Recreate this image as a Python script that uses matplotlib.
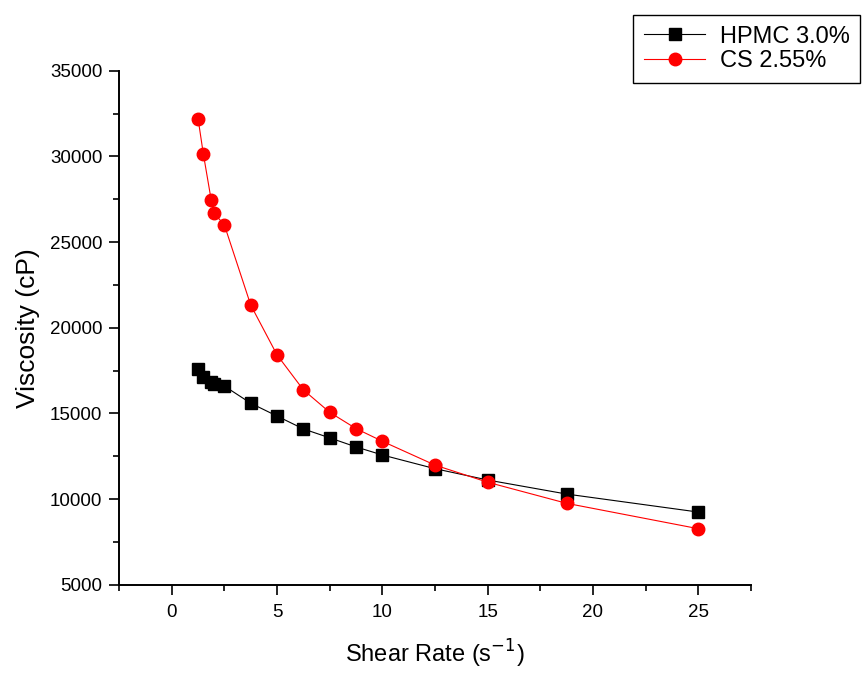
import matplotlib.pyplot as plt
from matplotlib.ticker import MultipleLocator

plt.rcParams['font.family'] = ['Liberation Sans', 'DejaVu Sans']

shear_rate = [1.25, 1.5, 1.875, 2, 2.5, 3.75, 5, 6.25, 7.5, 8.75, 10, 12.5, 15, 18.75, 25]
hpmc = [17600, 17150, 16850, 16700, 16600, 15600, 14850, 14100, 13580, 13050, 12580,
        11780, 11120, 10300, 9250]
cs = [32200, 30150, 27450, 26700, 26000, 21330, 18420, 16380, 15070, 14120, 13380,
      11990, 10990, 9760, 8280]

fig = plt.figure(figsize=(8.63, 6.93), dpi=100)
ax = fig.add_axes([0.138, 0.156, 0.732, 0.742])

ax.plot(shear_rate, hpmc, color="black", marker="s", markersize=8, linewidth=0.8,
        label="HPMC 3.0%")
ax.plot(shear_rate, cs, color="red", marker="o", markersize=9, linewidth=0.8,
        label="CS 2.55%")

ax.set_xlim(-2.5, 27.5)
ax.set_ylim(5000, 35000)
ax.xaxis.set_major_locator(MultipleLocator(5))
ax.xaxis.set_minor_locator(MultipleLocator(2.5))
ax.yaxis.set_major_locator(MultipleLocator(5000))
ax.yaxis.set_minor_locator(MultipleLocator(2500))

for s in ["top", "right"]:
  ax.spines[s].set_visible(False)
for s in ["left", "bottom"]:
  ax.spines[s].set_linewidth(1.4)

ax.tick_params(which="major", direction="out", length=7, width=1.2, labelsize=13.5)
ax.tick_params(which="minor", direction="out", length=4, width=1.2)
ax.tick_params(axis="x", pad=7)
ax.tick_params(axis="y", pad=5)

ax.set_xlabel("Shear Rate (s$^{-1}$)", fontsize=17, labelpad=12)
ax.set_ylabel("Viscosity (cP)", fontsize=19, labelpad=7)

leg = fig.legend(loc="upper right", bbox_to_anchor=(860 / 863, 1 - 15 / 693),
                 fontsize=17, handlelength=2.6, handletextpad=0.6, borderpad=0.45,
                 fancybox=False, edgecolor="black", framealpha=1, borderaxespad=0,
                 labelspacing=0.1)
leg.get_frame().set_linewidth(1.0)

fig.savefig("out.png", dpi=100, facecolor="white")
